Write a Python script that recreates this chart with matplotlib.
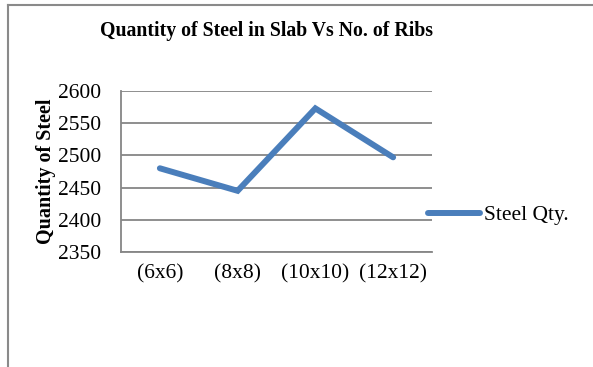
import matplotlib
matplotlib.use("Agg")
import matplotlib.pyplot as plt
from matplotlib.lines import Line2D

categories = ['(6x6)', '(8x8)', '(10x10)', '(12x12)']
steel_qty = [2480, 2445, 2573, 2497]
y_ticks = [2350, 2400, 2450, 2500, 2550, 2600]

plt.rcParams['font.family'] = ['Liberation Serif', 'DejaVu Serif']

W, H = 593, 367
fig = plt.figure(figsize=(W / 100, H / 100), dpi=100)

# chart frame (only left and top edges show)
frame_c = '#8a8a8a'
fig.add_artist(Line2D([7.5 / W, 7.5 / W], [0, 1 - 5 / H], transform=fig.transFigure,
                      color=frame_c, lw=1.5))
fig.add_artist(Line2D([7.5 / W, 1], [1 - 5 / H, 1 - 5 / H], transform=fig.transFigure,
                      color=frame_c, lw=1.5))

ax = fig.add_axes([121 / W, 115 / H, 311 / W, 161 / H])
x = range(len(categories))
ax.plot(x, steel_qty, color='#4a7ebb', lw=4.3, solid_capstyle='round',
        solid_joinstyle='miter', label='Steel Qty.')

ax.set_xlim(-0.5, len(categories) - 0.5)
ax.set_ylim(2350, 2600)
ax.set_yticks(y_ticks)
ax.set_xticks(list(x))
ax.set_xticklabels(categories)
ax.tick_params(axis='both', length=0, labelsize=15.5, colors='black')
ax.tick_params(axis='y', pad=14)
ax.tick_params(axis='x', pad=9)
ax.grid(axis='y', color='#868686', lw=1.3)
ax.set_axisbelow(True)
for s in ['top', 'right']:
    ax.spines[s].set_visible(False)
for s in ['left', 'bottom']:
    ax.spines[s].set_color('#868686')
    ax.spines[s].set_linewidth(1.3)

ax.set_ylabel('Quantity of Steel', fontsize=14.5, fontweight='bold', labelpad=2)
fig.text(267 / W, 1 - 31 / H, 'Quantity of Steel in Slab Vs No. of Ribs',
         ha='center', va='center', fontsize=14.2, fontweight='bold')

fig.legend(loc='center left', bbox_to_anchor=(428 / W, 1 - 215 / H),
           frameon=False, fontsize=15.5, handlelength=2.4, handletextpad=0.2,
           borderpad=0, borderaxespad=0)

fig.savefig('out.png', dpi=100, facecolor='white')
